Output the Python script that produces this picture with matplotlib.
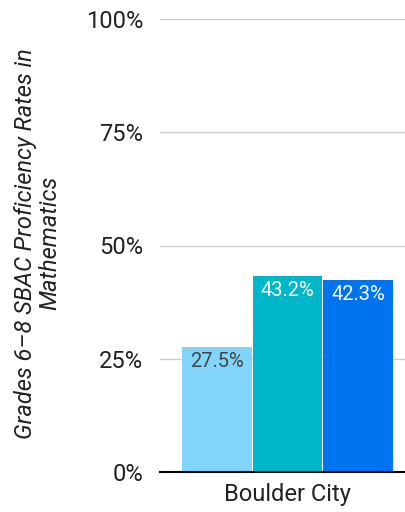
import matplotlib.pyplot as plt
import numpy as np

plt.rcParams['font.family'] = ['Roboto', 'DejaVu Sans']

category = 'Boulder City'
values = [27.5, 43.2, 42.3]
colors = ['#81D4FA', '#00B7C9', '#0073EE']
label_colors = ['#444444', 'white', 'white']

fig = plt.figure(figsize=(4.05, 5.12), dpi=100)
ax = fig.add_axes([160 / 405, 1 - 472 / 512, 245 / 405, (472 - 19) / 512])

x = np.arange(len(values)) - 1
bars = ax.bar(x, values, width=0.985, color=colors, zorder=2)
for b, v, c in zip(bars, values, label_colors):
    ax.text(b.get_x() + b.get_width() / 2, v - 1.0, f'{v:.1f}%',
            ha='center', va='top', fontsize=14.5, color=c, zorder=3)

ax.set_xlim(-1.8, 1.66)
ax.set_ylim(0, 100)
ax.set_yticks([0, 25, 50, 75, 100])
ax.set_yticklabels(['0%', '25%', '50%', '75%', '100%'], fontsize=17, color='#222222')
ax.set_xticks([0])
ax.set_xticklabels([category], fontsize=17, color='#222222')
ax.tick_params(axis='y', length=0, pad=12)
ax.tick_params(axis='x', length=0, pad=8)
ax.grid(axis='y', color='#cccccc', linewidth=1, zorder=0)
for s in ['top', 'right', 'left']:
    ax.spines[s].set_visible(False)
ax.spines['bottom'].set_color('black')
ax.spines['bottom'].set_linewidth(1.5)
ax.spines['bottom'].set_zorder(4)

fig.text(0.093, 0.525, 'Grades 6\u20138 SBAC Proficiency Rates in\nMathematics',
         rotation=90, ha='center', va='center', fontsize=17,
         style='italic', color='#222222', multialignment='center',
         linespacing=1.1)

fig.savefig('out.png', dpi=100)
